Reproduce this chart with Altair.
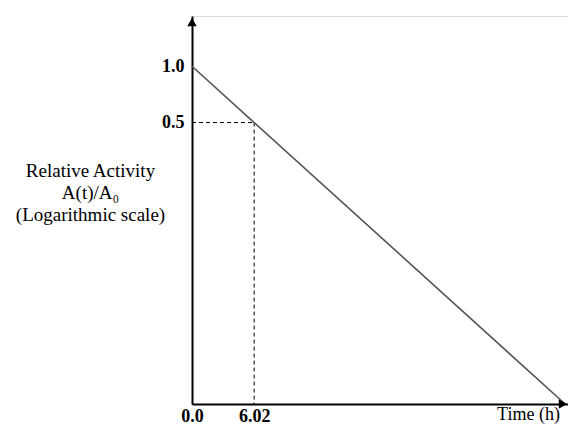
import altair as alt
import pandas as pd

# data
half_life = 6.02
t_line = [0.0, 6.02, 36.12]
a_line = [1.0, 0.5, 1 / 64]
y_ticks = [0.5, 1.0]
x_ticks = [0.0, 6.02]
x_tick_labels = ["0.0", "6.02"]

x_domain = [0, 36.4]
y_domain = [1 / 64, 1.857]

line_df = pd.DataFrame({"t": t_line, "a": a_line})
dash_h = pd.DataFrame({"t": [0.0], "t2": [half_life], "a": [0.5]})
dash_v = pd.DataFrame({"t": [half_life], "a": [0.5], "a2": [1 / 64]})
arrow_up = pd.DataFrame({"t": [0.0], "a": [1.72]})
arrow_right = pd.DataFrame({"t": [35.9], "a": [1 / 64]})

xs = alt.Scale(domain=x_domain, nice=False, zero=False)
ys = alt.Scale(type="log", domain=y_domain, nice=False)

serif = "Liberation Serif"

x_axis = alt.Axis(
    values=x_ticks,
    labelExpr="datum.value == 0 ? '0.0' : '6.02'",
    ticks=False, grid=False,
    domainColor="black", domainWidth=2,
    labelFont=serif, labelFontSize=18, labelFontWeight="bold", labelColor="black",
    labelPadding=3, labelFlush=False,
    title="Time (h)", titleFont=serif, titleFontSize=18, titleFontWeight="normal",
    titleColor="black", titleX=336, titleY=1, titleBaseline="top", titleAlign="center",
)
y_axis = alt.Axis(
    values=y_ticks, format=".1f",
    ticks=False, grid=False,
    domainColor="black", domainWidth=2,
    labelFont=serif, labelFontSize=18, labelFontWeight="bold", labelColor="black",
    labelPadding=8,
    title=["Relative Activity", "A(t)/A₀", "(Logarithmic scale)"],
    titleFont=serif, titleFontSize=19, titleFontWeight="normal", titleColor="black",
    titleAngle=0, titleAlign="center", titleBaseline="top",
    titleX=-102, titleY=145, titleLineHeight=22,
)

base_line = alt.Chart(line_df).mark_line(color="#555555", strokeWidth=1.6).encode(
    x=alt.X("t:Q", scale=xs, axis=x_axis),
    y=alt.Y("a:Q", scale=ys, axis=y_axis),
)

h = alt.Chart(dash_h).mark_rule(color="black", strokeWidth=1, strokeDash=[4, 3]).encode(
    x=alt.X("t:Q", scale=xs), x2="t2:Q", y=alt.Y("a:Q", scale=ys)
)
v = alt.Chart(dash_v).mark_rule(color="black", strokeWidth=1, strokeDash=[4, 3]).encode(
    x=alt.X("t:Q", scale=xs), y=alt.Y("a:Q", scale=ys), y2="a2:Q"
)
up = alt.Chart(arrow_up).mark_point(
    shape="triangle-up", filled=True, color="black", size=90, opacity=1
).encode(x=alt.X("t:Q", scale=xs), y=alt.Y("a:Q", scale=ys))
right = alt.Chart(arrow_right).mark_point(
    shape="triangle-right", filled=True, color="black", size=90, opacity=1
).encode(x=alt.X("t:Q", scale=xs), y=alt.Y("a:Q", scale=ys))

chart = (
    alt.layer(h, v, base_line, up, right)
    .properties(
        width=376, height=388,
        autosize=alt.AutoSizeParams(type="none"),
        padding={"left": 184, "top": 8, "right": 0, "bottom": 21},
    )
    .configure_view(stroke=None)
    .configure(background="white")
)

chart.save("out.html", embed_options={"renderer": "svg", "actions": False})
